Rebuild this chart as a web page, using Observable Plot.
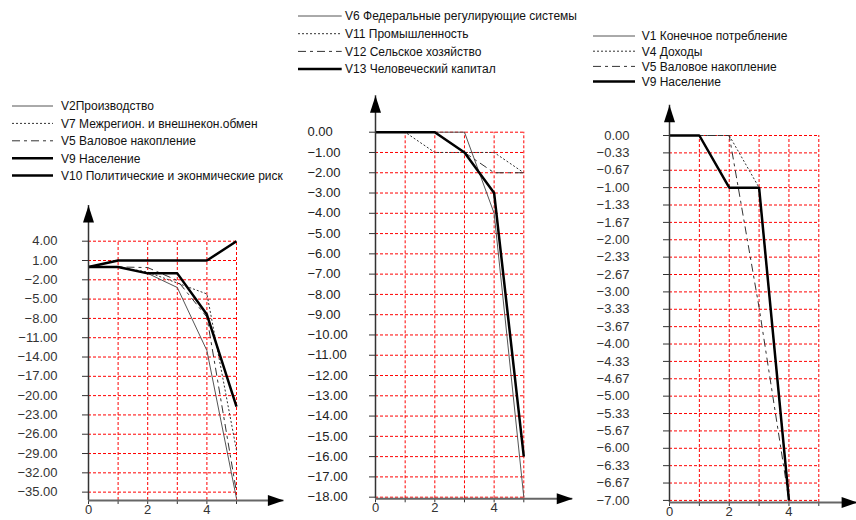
<!DOCTYPE html>
<html><head><meta charset="utf-8">
<script src="https://cdn.jsdelivr.net/npm/d3@7"></script>
<script src="https://cdn.jsdelivr.net/npm/@observablehq/plot@0.6"></script>
<style>
html,body{margin:0;padding:0;background:#fff;}
#root{position:relative;width:856px;height:520px;overflow:hidden;font-family:"Liberation Sans",Arial,sans-serif;}
#root svg{position:absolute;background:transparent;}
</style></head><body><div id="root"></div>
<script>
// ---------- data ----------
const steps6 = [0, 1, 2, 3, 4, 5];
const steps5 = [0, 1, 2, 3, 4];
const xTickLabels = ["0", "", "2", "", "4", ""];

// Panel 1
const p1Names = ["V2Производство", "V7 Межрегион. и внешнекон.обмен", "V5 Валовое накопление", "V9 Население", "V10 Политические и эконмические риск"];
const p1V2 = [0, 0, -1, -3.2, -13, -36];
const p1V7 = [0, 0, -0.8, -2.5, -4.2, -28.5];
const p1V5 = [0, 0, -0.1, -2.1, -7.8, -35];
const p1V9 = [0, 0, -1, -1, -7.4, -21.7];
const p1V10 = [0, 1, 1, 1, 1, 4];
const p1Styles = ["thin", "dotted", "dashdot", "thick", "thick"];
const p1YTicks = [4, 1, -2, -5, -8, -11, -14, -17, -20, -23, -26, -29, -32, -35];

// Panel 2
const p2Names = ["V6 Федеральные регулирующие системы", "V11 Промышленность", "V12 Сельское хозяйство", "V13 Человеческий капитал"];
const p2V6 = [0, 0, 0, 0, -4, -18];
const p2V11 = [0, 0, -1, -1, -1, -2];
const p2V12 = [0, 0, 0, -1, -2, -2];
const p2V13 = [0, 0, 0, -1, -3, -16];
const p2Styles = ["thin", "dotted", "dashdot", "thick"];
const p2YTicks = [0, -1, -2, -3, -4, -5, -6, -7, -8, -9, -10, -11, -12, -13, -14, -15, -16, -17, -18];

// Panel 3
const p3Names = ["V1 Конечное потребление", "V4 Доходы", "V5 Валовое накопление", "V9 Население"];
const p3V1 = [0, 0, -1, -1, -7];
const p3V4 = [0, 0, 0, -1, -7];
const p3V5 = [0, 0, 0, -3.3, -7];
const p3V9 = [0, 0, -1, -1, -7];
const p3Styles = ["thin", "dotted", "dashdot", "thick"];
const p3YTicks = [0, -1/3, -2/3, -1, -4/3, -5/3, -2, -7/3, -8/3, -3, -10/3, -11/3, -4, -13/3, -14/3, -5, -16/3, -17/3, -6, -19/3, -20/3, -7];

// ---------- styles ----------
const STY = {
  thin:    {stroke: "#555", strokeWidth: 1, dash: null},
  dotted:  {stroke: "#333", strokeWidth: 1, dash: "2,2"},
  dashdot: {stroke: "#333", strokeWidth: 1, dash: "8,4,3,4"},
  thick:   {stroke: "#000", strokeWidth: 2.5, dash: null}
};
const arrowUp = {draw(c) { c.moveTo(0, 0); c.lineTo(5.5, 17); c.lineTo(-5.5, 17); c.closePath(); }};
const arrowRight = {draw(c) { c.moveTo(0, 0); c.lineTo(-16, 5.5); c.lineTo(-16, -5.5); c.closePath(); }};
const root = document.getElementById("root");
const fmt = d3.format(".2f");

function panel(o) {
  const yBottom = o.yDomain[0], yTop = o.yDomain[1];
  const gridX = o.gridX;
  const order = ["thin", "dotted", "dashdot", "thick"];
  const idx = o.series.map((s, i) => i).sort((a, b) => order.indexOf(o.styles[a]) - order.indexOf(o.styles[b]));
  const lineMarks = idx.map(i => {
    const st = STY[o.styles[i]];
    const rows = o.xs.map((x, j) => ({x, y: o.series[i][j]}));
    return Plot.line(rows, {x: "x", y: "y", stroke: st.stroke, strokeWidth: st.strokeWidth,
      strokeDasharray: st.dash || undefined, strokeLinejoin: "miter", strokeLinecap: "butt"});
  });
  const marks = [
    Plot.ruleX(gridX.slice(1), {x: d => d, y1: yBottom, y2: yTop, stroke: "#ff0000", strokeWidth: 1, strokeDasharray: "3,2"}),
    Plot.ruleY(o.yTicks, {y: d => d, x1: 0, x2: gridX[gridX.length - 1], stroke: "#ff0000", strokeWidth: 1, strokeDasharray: "3,2"}),
    ...lineMarks,
    Plot.ruleX([0], {x: d => d, y1: yBottom, y2: o.yArrow, stroke: "#333", strokeWidth: 1.5}),
    Plot.ruleY([yBottom], {y: d => d, x1: 0, x2: o.xArrow, stroke: "#666", strokeWidth: 2}),
    Plot.dot([{x: 0, y: o.yArrow}], {x: "x", y: "y", symbol: arrowUp, r: 5, fill: "#000", stroke: null}),
    Plot.dot([{x: o.xArrow, y: yBottom}], {x: "x", y: "y", symbol: arrowRight, r: 5, fill: "#000", stroke: null})
  ];
  if (o.leftLabels) {
    marks.push(Plot.text(o.yTicks, {x: 0, y: d => d, text: d => fmt(d), textAnchor: "start", dx: o.labelDx, fill: "#222", fontSize: 13}));
  }
  const chart = Plot.plot({
    width: o.width, height: o.height,
    marginLeft: o.mL, marginRight: o.mR, marginTop: o.mT, marginBottom: o.mB,
    style: {fontFamily: "'Liberation Sans', Arial, sans-serif", fontSize: "13px", color: "#333", background: "transparent", overflow: "visible"},
    x: {domain: [0, 5], ticks: steps6, tickFormat: (d) => xTickLabels[steps6.indexOf(d)], tickSize: 4, tickPadding: 0, label: null},
    y: {domain: o.yDomain, ticks: o.yTicks, tickFormat: o.leftLabels ? () => "" : fmt, tickSize: 6, tickPadding: o.tickPadding, label: null},
    marks
  });
  chart.style.left = o.left + "px";
  chart.style.top = o.top + "px";
  root.appendChild(chart);

  // legend
  const lg = d3.select(root).append("svg")
    .attr("width", o.leg.w).attr("height", o.leg.h)
    .style("left", o.leg.left + "px").style("top", o.leg.top + "px");
  o.names.forEach((name, i) => {
    const st = STY[o.styles[i]];
    const y = o.leg.y0 + o.leg.dy * i;
    lg.append("line").attr("x1", o.leg.x1).attr("x2", o.leg.x2).attr("y1", y).attr("y2", y)
      .attr("stroke", st.stroke).attr("stroke-width", st.strokeWidth).attr("stroke-dasharray", st.dash);
    lg.append("text").attr("x", o.leg.tx).attr("y", y).attr("dy", "0.36em")
      .attr("font-family", "'Liberation Sans', Arial, sans-serif").attr("font-size", 12).attr("fill", "#111").text(name);
  });
}

panel({
  left: 0, top: 195, width: 290, height: 325, mL: 88, mR: 54, mT: 45.7, mB: 20,
  yDomain: [-36.3, 4], yTicks: p1YTicks, gridX: steps6, xs: steps6, yArrow: 9.55, xArrow: 6.6,
  series: [p1V2, p1V7, p1V5, p1V9, p1V10], styles: p1Styles, names: p1Names, tickPadding: 25,
  leg: {left: 0, top: 90, w: 289, h: 100, x1: 12, x2: 53, tx: 61, y0: 16, dy: 17.4}
});
panel({
  left: 290, top: 85, width: 290, height: 435, mL: 85, mR: 56.7, mT: 46.7, mB: 21.7,
  yDomain: [-18.08, 0], yTicks: p2YTicks, gridX: steps6, xs: steps6, yArrow: 1.8, xArrow: 6.65,
  series: [p2V6, p2V11, p2V12, p2V13], styles: p2Styles, names: p2Names, leftLabels: true, labelDx: -68, tickPadding: 3,
  leg: {left: 290, top: 0, w: 298, h: 80, x1: 8, x2: 51.7, tx: 55, y0: 16, dy: 17.7}
});
panel({
  left: 590, top: 90, width: 266, height: 430, mL: 79, mR: 37.7, mT: 45, mB: 18,
  yDomain: [-7.04, 0], yTicks: p3YTicks, gridX: steps6, xs: steps5, yArrow: 0.58, xArrow: 6.3,
  series: [p3V1, p3V4, p3V5, p3V9], styles: p3Styles, names: p3Names, tickPadding: 34,
  leg: {left: 590, top: 20, w: 266, h: 70, x1: 3, x2: 45, tx: 51.7, y0: 16, dy: 15.2}
});
</script></body></html>
